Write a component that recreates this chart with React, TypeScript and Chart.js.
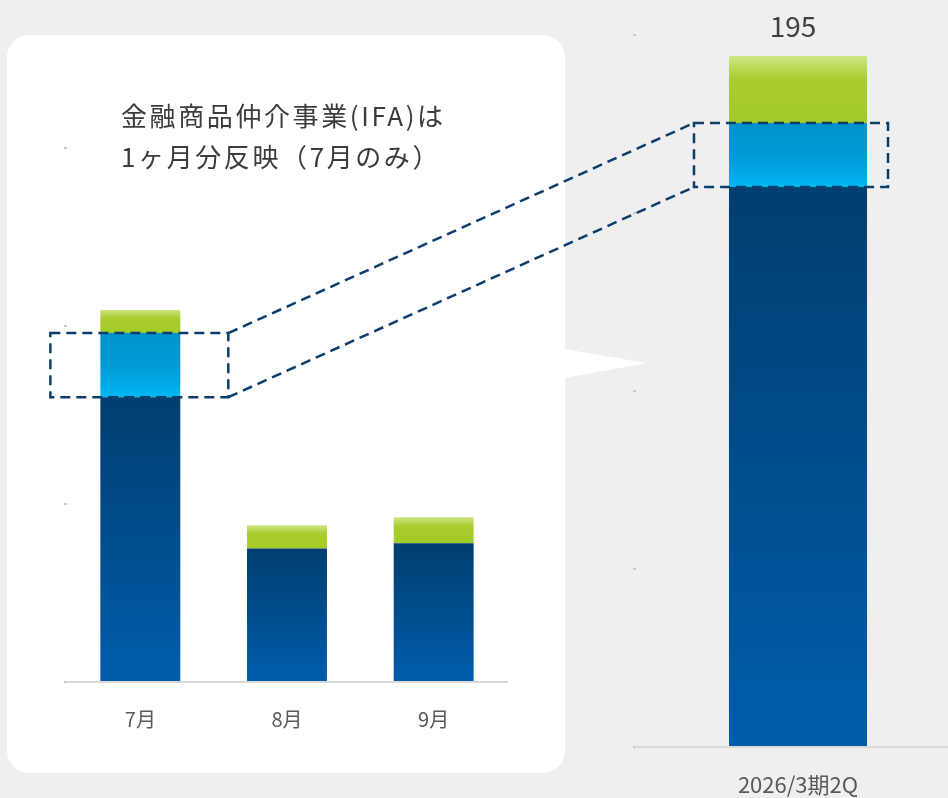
import { useEffect, useRef } from 'react';
import { Chart, registerables } from 'chart.js';

Chart.register(...registerables);

// ---- data ----
const monthLabels = ['7月', '8月', '9月'];
const monthCore = [80, 37.5, 39];
const monthIFA = [18, 0, 0];
const monthOther = [6.5, 6.5, 7.3];

const quarterLabels = ['2026/3期2Q'];
const quarterCore = [157.3];
const quarterIFA = [18];
const quarterOther = [18.8];
const quarterTotal = [195];

const monthAxisMax = 150;
const quarterAxisMax = 200;
const axisStep = 50;

const titleLines = ['金融商品仲介事業(IFA)は', '1ヶ月分反映（7月のみ）'];

const FONT = "'Noto Sans CJK JP', 'Noto Sans', sans-serif";
const W = 948;
const H = 798;

type Kind = 'core' | 'ifa' | 'other';

function makeGradient(ctx: CanvasRenderingContext2D, top: number, bottom: number, kind: Kind) {
  const g = ctx.createLinearGradient(0, top, 0, bottom);
  if (kind === 'core') {
    g.addColorStop(0, '#003e6f');
    g.addColorStop(1, '#005dab');
  } else if (kind === 'ifa') {
    g.addColorStop(0, '#0093cc');
    g.addColorStop(0.5, '#009ad6');
    g.addColorStop(0.8, '#00a9e6');
    g.addColorStop(1, '#00b9f5');
  } else {
    g.addColorStop(0, '#cfe685');
    g.addColorStop(0.35, '#a8cd2d');
    g.addColorStop(1, '#a4ca27');
  }
  return g;
}

const kinds: Kind[] = ['core', 'ifa', 'other'];

const gradientPlugin = {
  id: 'segGradient',
  beforeDatasetsDraw(chart: any) {
    const ctx = chart.ctx;
    chart.data.datasets.forEach((_ds: any, di: number) => {
      const meta = chart.getDatasetMeta(di);
      meta.data.forEach((el: any) => {
        const top = Math.min(el.y, el.base);
        const bottom = Math.max(el.y, el.base);
        if (bottom - top < 0.5) return;
        el.options = Object.assign({}, el.options, {
          backgroundColor: makeGradient(ctx, top, bottom, kinds[di]),
        });
      });
    });
  },
};

function baseOptions(barPct: number, yMax: number, padding: any, xHeight: number, tickFont: number, tickPad: number, yWidth: number) {
  return {
    responsive: false,
    animation: false as const,
    devicePixelRatio: 1,
    layout: { padding },
    plugins: { legend: { display: false }, tooltip: { enabled: false }, title: { display: false } },
    datasets: { bar: { categoryPercentage: 1, barPercentage: barPct, borderWidth: 0 } },
    scales: {
      x: {
        stacked: true,
        offset: true,
        grid: { display: false },
        border: { display: true, color: '#d9d9d9', width: 2 },
        ticks: { color: '#595959', font: { family: FONT, size: tickFont }, padding: tickPad, maxRotation: 0 },
        afterFit: (s: any) => { s.height = xHeight; },
      },
      y: {
        stacked: true,
        min: 0,
        max: yMax,
        ticks: { display: false, stepSize: axisStep },
        grid: { display: true, drawOnChartArea: false, drawTicks: true, tickLength: 3, color: '#c8c8c8', lineWidth: 2 },
        border: { display: false },
        afterFit: (s: any) => { s.width = yWidth; },
      },
    },
  };
}

export default function App() {
  const leftRef = useRef<HTMLCanvasElement | null>(null);
  const rightRef = useRef<HTMLCanvasElement | null>(null);

  useEffect(() => {
    if (!leftRef.current || !rightRef.current) return;

    const totalLabelPlugin = {
      id: 'totalLabel',
      afterDatasetsDraw(chart: any) {
        const ctx = chart.ctx;
        const meta = chart.getDatasetMeta(chart.data.datasets.length - 1);
        meta.data.forEach((el: any, i: number) => {
          ctx.save();
          ctx.fillStyle = '#404040';
          ctx.font = `28px ${FONT}`;
          ctx.textAlign = 'center';
          ctx.textBaseline = 'alphabetic';
          ctx.fillText(String(quarterTotal[i]), el.x - 5, el.y - 19);
          ctx.restore();
        });
      },
    };

    const rightChart = new Chart(rightRef.current, {
      type: 'bar',
      data: {
        labels: quarterLabels,
        datasets: [
          { data: quarterCore, backgroundColor: '#004c8c' },
          { data: quarterIFA, backgroundColor: '#009ad6' },
          { data: quarterOther, backgroundColor: '#a6cc2a' },
        ],
      },
      options: baseOptions(0.426, quarterAxisMax, { left: 631, right: 40, top: 35, bottom: 0 }, 51, 22, 16, 5) as any,
      plugins: [gradientPlugin, totalLabelPlugin],
    });

    const panelPlugin = {
      id: 'panel',
      beforeDraw(chart: any) {
        const ctx = chart.ctx;
        ctx.save();
        ctx.fillStyle = '#ffffff';
        ctx.beginPath();
        (ctx as any).roundRect(7, 35, 558, 738, 22);
        ctx.fill();
        // speech-bubble pointer
        ctx.beginPath();
        ctx.moveTo(564, 349);
        ctx.lineTo(647, 363);
        ctx.lineTo(564, 378);
        ctx.closePath();
        ctx.fill();
        // title
        ctx.fillStyle = '#3c3c3c';
        ctx.font = `26px ${FONT}`;
        ctx.textAlign = 'left';
        ctx.textBaseline = 'middle';
        (ctx as any).letterSpacing = '2.6px';
        ctx.fillText(titleLines[0], 121, 116);
        ctx.fillText(titleLines[1], 121, 157);
        ctx.restore();
      },
    };

    const connectorPlugin = {
      id: 'connector',
      afterDraw(chart: any) {
        const ctx = chart.ctx;
        const l = chart.getDatasetMeta(1).data[0] as any;
        const r = rightChart.getDatasetMeta(1).data[0] as any;
        if (!l || !r) return;
        const lLeft = l.x - l.width / 2 - 50;
        const lRight = l.x + l.width / 2 + 48;
        const lTop = l.y;
        const lBot = l.base;
        const rLeft = r.x - r.width / 2 - 35;
        const rRight = r.x + r.width / 2 + 21;
        const rTop = r.y;
        const rBot = r.base;
        ctx.save();
        ctx.strokeStyle = '#0a3e6d';
        ctx.lineWidth = 2.5;
        ctx.setLineDash([10, 6]);
        ctx.strokeRect(lLeft, lTop, lRight - lLeft, lBot - lTop);
        ctx.strokeRect(rLeft, rTop, rRight - rLeft, rBot - rTop);
        ctx.beginPath();
        ctx.moveTo(lRight, lTop);
        ctx.lineTo(rLeft, rTop);
        ctx.moveTo(lRight, lBot);
        ctx.lineTo(rLeft, rBot);
        ctx.stroke();
        ctx.restore();
      },
    };

    const leftChart = new Chart(leftRef.current, {
      type: 'bar',
      data: {
        labels: monthLabels,
        datasets: [
          { data: monthCore, backgroundColor: '#004c8c' },
          { data: monthIFA, backgroundColor: '#009ad6' },
          { data: monthOther, backgroundColor: '#a6cc2a' },
        ],
      },
      options: baseOptions(0.545, monthAxisMax, { left: 62, right: 441, top: 148, bottom: 0 }, 116, 20, 17, 5) as any,
      plugins: [panelPlugin, gradientPlugin, connectorPlugin],
    });

    return () => {
      leftChart.destroy();
      rightChart.destroy();
    };
  }, []);

  return (
    <div style={{ position: 'fixed', left: 0, top: 0, width: W, height: H, overflow: 'hidden', background: '#efefef' }}>
      <canvas ref={rightRef} width={1000} height={H} style={{ position: 'absolute', left: 0, top: 0, width: 1000, height: H }} />
      <canvas ref={leftRef} width={W} height={H} style={{ position: 'absolute', left: 0, top: 0, width: W, height: H }} />
    </div>
  );
}
